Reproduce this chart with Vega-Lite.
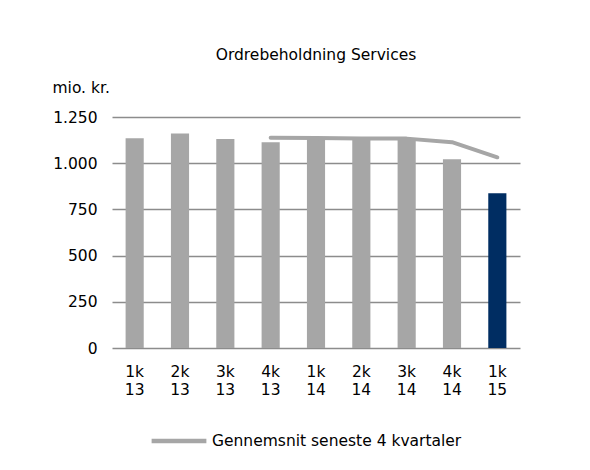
{
  "$schema": "https://vega.github.io/schema/vega-lite/v6.json",
  "width": 408,
  "height": 231,
  "autosize": {"type": "none"},
  "padding": {"left": 112, "top": 117, "right": 70, "bottom": 122},
  "background": "white",
  "config": {
    "locale": {"number": {"decimal": ",", "thousands": ".", "grouping": [3], "currency": ["", " kr."]}},
    "font": "DejaVu Sans",
    "view": {"stroke": null},
    "axis": {"labelFont": "DejaVu Sans", "titleFont": "DejaVu Sans", "labelColor": "#000000", "titleColor": "#000000"}
  },
  "title": {
    "text": "Ordrebeholdning Services",
    "font": "DejaVu Sans",
    "fontSize": 15.5,
    "fontWeight": "normal",
    "color": "#000000",
    "anchor": "middle",
    "offset": 17
  },
  "data": {
    "values": [
      {"q": "1k 13", "value": 1135, "avg": null},
      {"q": "2k 13", "value": 1161, "avg": null},
      {"q": "3k 13", "value": 1131, "avg": null},
      {"q": "4k 13", "value": 1113, "avg": 1138},
      {"q": "1k 14", "value": 1135, "avg": 1137},
      {"q": "2k 14", "value": 1125, "avg": 1133},
      {"q": "3k 14", "value": 1125, "avg": 1133},
      {"q": "4k 14", "value": 1021, "avg": 1114},
      {"q": "1k 15", "value": 837, "avg": 1032}
    ]
  },
  "encoding": {
    "x": {
      "field": "q",
      "type": "ordinal",
      "sort": null,
      "scale": {"paddingInner": 0.6, "paddingOuter": 0.3},
      "axis": {
        "title": null,
        "labelAngle": 0,
        "labelExpr": "split(datum.value, ' ')",
        "labelFontSize": 15.5,
        "labelLineHeight": 18,
        "labelPadding": 16,
        "labelBaseline": "top",
        "ticks": false,
        "domain": false,
        "grid": false
      }
    }
  },
  "layer": [
    {
      "mark": {"type": "bar"},
      "encoding": {
        "y": {
          "field": "value",
          "type": "quantitative",
          "scale": {"domain": [0, 1250], "nice": false},
          "axis": {
            "values": [0, 250, 500, 750, 1000, 1250],
            "format": ",d",
            "title": "mio. kr.",
            "titleAngle": 0,
            "titleFontSize": 15.5,
            "titleFontWeight": "normal",
            "titleAlign": "left",
            "titleBaseline": "middle",
            "titleX": -60,
            "titleY": -30,
            "labelFontSize": 15.5,
            "labelPadding": 15,
            "ticks": false,
            "domain": false,
            "grid": true,
            "gridColor": "#8C8C8C",
            "gridWidth": 1.5
          }
        },
        "color": {
          "condition": {"test": "datum.q === '1k 15'", "value": "#002D62"},
          "value": "#A6A6A6"
        }
      }
    },
    {
      "transform": [{"filter": "datum.avg != null"}],
      "mark": {"type": "line", "strokeWidth": 4, "strokeCap": "round", "strokeJoin": "round"},
      "encoding": {
        "y": {"field": "avg", "type": "quantitative"},
        "stroke": {
          "datum": "Gennemsnit seneste 4 kvartaler",
          "scale": {"range": ["#A6A6A6"]},
          "legend": {
            "title": null,
            "orient": "none",
            "legendX": 37,
            "legendY": 294,
            "symbolType": "stroke",
            "symbolSize": 3000,
            "symbolStrokeWidth": 4.5,
            "labelFontSize": 15.5,
            "labelLimit": 400,
            "labelColor": "#000000",
            "labelFont": "DejaVu Sans",
            "labelOffset": 3
          }
        }
      }
    }
  ]
}
